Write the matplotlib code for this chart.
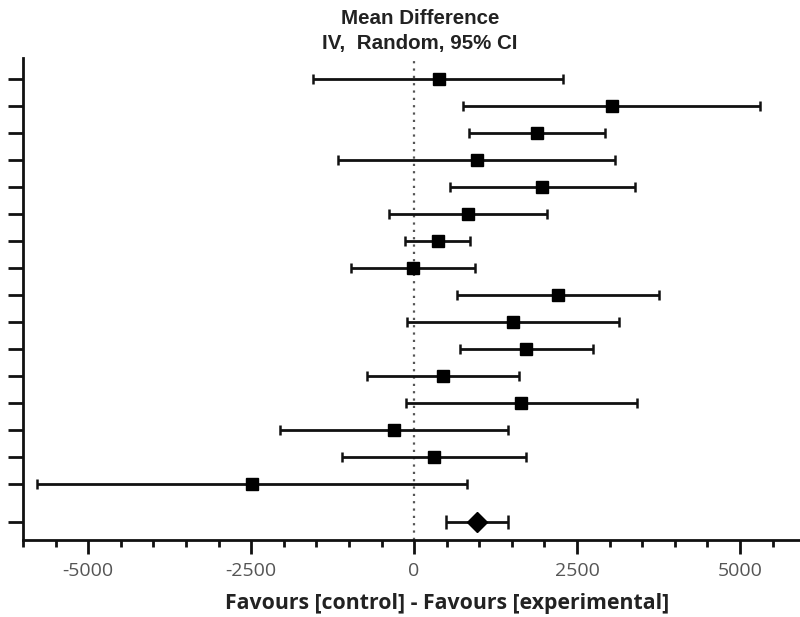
import matplotlib
matplotlib.use("Agg")
import matplotlib.pyplot as plt
import numpy as np
from matplotlib.ticker import MultipleLocator

# Study estimates (mean difference) and 95% CI
means = [383, 3037, 1887, 966, 1964, 828, 368, -15, 2209, 1519, 1718, 445, 1641, -307, 300, -2485]
lows  = [-1549, 752, 844, -1166, 552, -383, -138, -966, 660, -107, 706, -721, -127, -2056, -1100, -5783]
highs = [2286, 5307, 2930, 3083, 3390, 2040, 859, 936, 3758, 3145, 2746, 1611, 3421, 1442, 1715, 813]
# Pooled estimate
pooled_mean = 966
pooled_low = 491
pooled_high = 1442

title = "Mean Difference\nIV,  Random, 95% CI"
xlabel = "Favours [control] - Favours [experimental]"
xticks = [-5000, -2500, 0, 2500, 5000]

fig = plt.figure(figsize=(8.0, 6.17), dpi=100)
ax = fig.add_axes([23/800, 77/617, 777/800, 482/617])

n = len(means)
ys = np.arange(1, n + 1)
pooled_y = n + 1.4

means_a = np.array(means)
err = [means_a - np.array(lows), np.array(highs) - means_a]
ax.errorbar(means, ys, xerr=err, fmt='s', color='black', ecolor='#111111',
            elinewidth=2.0, capsize=3.8, capthick=1.8, markersize=8.5, zorder=3)
ax.errorbar([pooled_mean], [pooled_y],
            xerr=[[pooled_mean - pooled_low], [pooled_high - pooled_mean]],
            fmt='D', color='black', ecolor='#111111', elinewidth=2.0,
            capsize=5, capthick=1.8, markersize=10, zorder=3)

ax.axvline(0, color='#555555', linestyle=(0, (1, 2.3)), linewidth=1.6, zorder=1)

ax.set_xlim(-6000, 5920)
ax.set_ylim(n + 2.07, 0.22)

ax.set_yticks(list(ys) + [pooled_y])
ax.set_yticklabels([])
ax.set_xticks(xticks)
ax.set_xticklabels([str(t) for t in xticks], fontsize=14, color='#555555',
                   family='Open Sans')
ax.xaxis.set_minor_locator(MultipleLocator(500))

for s in ['top', 'right']:
    ax.spines[s].set_visible(False)
for s in ['left', 'bottom']:
    ax.spines[s].set_linewidth(2.0)
    ax.spines[s].set_color('#111111')

ax.tick_params(axis='y', which='major', length=11, width=2.0, color='#111111')
ax.tick_params(axis='x', which='major', length=10, width=2.0, color='#111111', pad=6)
ax.tick_params(axis='x', which='minor', length=5, width=2.0, color='#111111')

fig.text(447/800, 1 - 604/617, xlabel, ha='center', va='center', fontsize=15.3,
         fontweight='bold', family='Open Sans', color='#222222')

fig.text(420/800, 1 - 31/617, title, ha='center', va='center', fontsize=14.8,
         fontweight='bold', family='Liberation Sans', color='#222222',
         linespacing=1.45)

fig.savefig("out.png", dpi=100)
